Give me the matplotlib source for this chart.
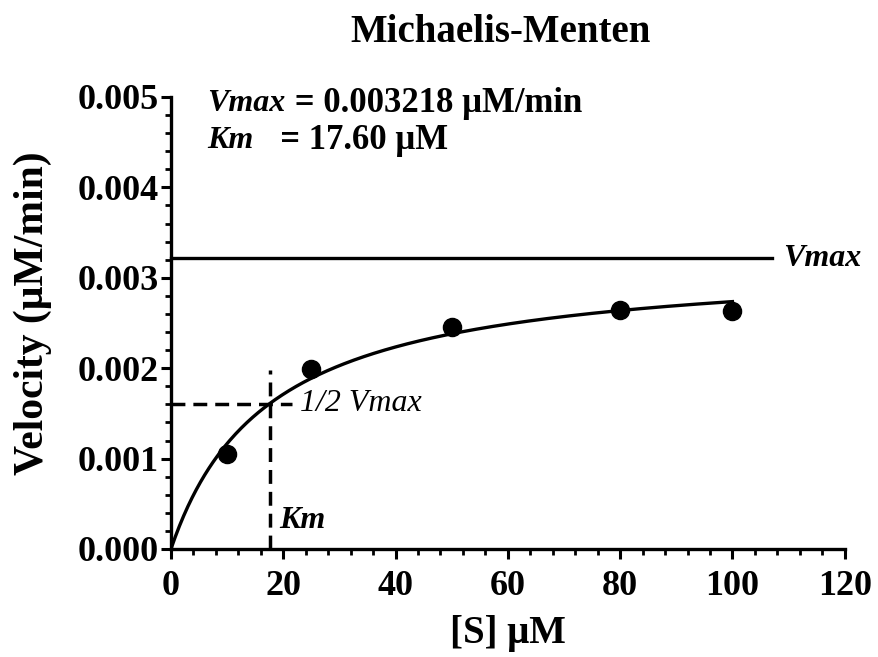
import matplotlib
matplotlib.use("Agg")
import matplotlib.pyplot as plt
import numpy as np
from matplotlib.ticker import MultipleLocator

# Data
substrate = [10, 25, 50, 80, 100]
velocity = [0.00105, 0.00199, 0.00246, 0.00264, 0.00263]
vmax = 0.003218
km = 17.60
x_ticks = [0, 20, 40, 60, 80, 100, 120]
y_ticks = [0.000, 0.001, 0.002, 0.003, 0.004, 0.005]

plt.rcParams['font.family'] = ['Liberation Serif', 'DejaVu Serif']

fig = plt.figure(figsize=(8.79, 6.57), dpi=100)
ax = fig.add_axes([0.1945, 0.1644, 0.7665, 0.688])

xs = np.linspace(0, 100, 400)
ax.plot(xs, vmax * xs / (km + xs), color='black', lw=2.4, zorder=3)
ax.scatter(substrate, velocity, s=170, color='black', zorder=4)

# Vmax line
ax.plot([0, 107], [vmax, vmax], color='black', lw=2.4, clip_on=False)
ax.text(109.0, vmax, 'Vmax', fontsize=23, fontweight='bold', style='italic',
        va='center', ha='left')

# half vmax and Km
ax.plot([0, 21.5], [vmax / 2, vmax / 2], color='black', lw=2.5, ls=(0, (4, 2.3)))
ax.plot([km, km], [0, 0.00198], color='black', lw=2.5, ls=(0, (4, 2.3)))
ax.text(23.0, vmax / 2, '1/2 Vmax', fontsize=23, style='italic',
        va='center', ha='left')
ax.text(19.3, 0.00032, 'Km', fontsize=23, fontweight='bold', style='italic',
        va='center', ha='left')

# annotation
t1 = ax.text(6.5, 0.00493, 'Vmax', fontsize=23, fontweight='bold', style='italic', va='center')
ax.annotate(' = 0.003218 \u03bcM/min', xy=(1, 0.5), xycoords=t1, fontsize=25,
            fontweight='bold', va='center', ha='left')
t2 = ax.text(6.5, 0.00452, 'Km', fontsize=23, fontweight='bold', style='italic', va='center')
ax.annotate('   = 17.60 \u03bcM', xy=(1, 0.5), xycoords=t2, fontsize=25,
            fontweight='bold', va='center', ha='left')

ax.set_xlim(0, 120)
ax.set_ylim(0, 0.005)
ax.set_xticks(x_ticks)
ax.set_yticks(y_ticks)
ax.set_yticklabels([f'{v:.3f}' for v in y_ticks])
ax.xaxis.set_minor_locator(MultipleLocator(4))
ax.yaxis.set_minor_locator(MultipleLocator(0.0002))

for s in ['top', 'right']:
    ax.spines[s].set_visible(False)
for s in ['left', 'bottom']:
    ax.spines[s].set_linewidth(2.4)

ax.tick_params(which='major', length=7, width=2.2, labelsize=26)
ax.tick_params(axis='x', which='major', pad=8)
ax.tick_params(axis='y', which='major', pad=2)
ax.tick_params(which='minor', length=4, width=2.0)
for lab in ax.get_xticklabels() + ax.get_yticklabels():
    lab.set_fontweight('bold')

ax.set_xlabel('[S] \u03bcM', fontsize=28, fontweight='bold', labelpad=9)
ax.set_ylabel('Velocity (\u03bcM/min)', fontsize=30, fontweight='bold')
ax.yaxis.set_label_coords(-0.177, 0.522)
fig.text(0.570, 0.950, 'Michaelis-Menten', fontsize=28, fontweight='bold',
         ha='center', va='center')

fig.savefig('out.png', dpi=100)
